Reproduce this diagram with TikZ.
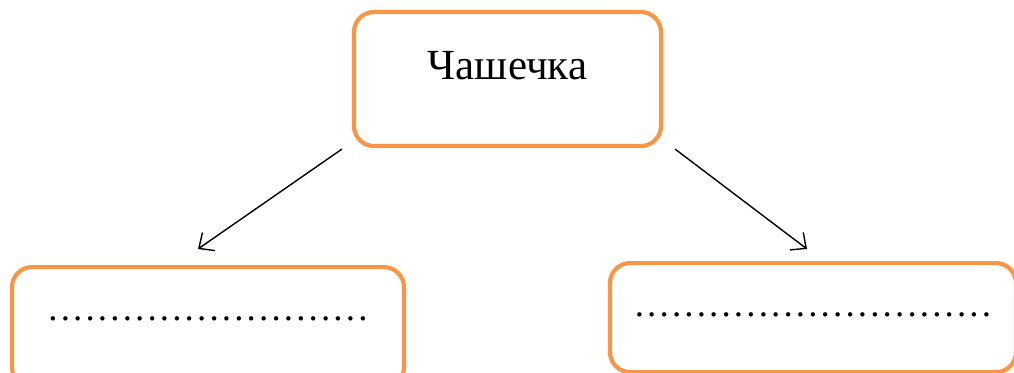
\documentclass[tikz,border=0pt]{standalone}
\usepackage{fontspec}
\setmainfont{Liberation Serif}
\newfontfamily\dotfont[LetterSpace=8.5]{Liberation Serif}
\usepackage{tikz}
\usetikzlibrary{arrows.meta}
\definecolor{boxorange}{RGB}{247, 150, 70}
\tikzset{>={Straight Barb[length=12pt,width=22pt]}}
\tikzset{
    rbox/.style={draw=boxorange, line width=4.2pt, rounded corners=20pt, inner sep=0pt}, % box
    dots/.style={font=\dotfont\fontsize{37}{44}\selectfont}, % dotted blank line
    arr/.style={->, line width=1.4pt} % arrow
}
\begin{document}
\begin{tikzpicture}[x=1pt, y=-1pt]
	\useasboundingbox (0,0) rectangle (1014,372);
				\node[rbox, minimum width=307pt, text height=67pt, text depth=67pt,
					font=\fontsize{43}{50}\selectfont] (chash) at (507.5,79) {Чашечка};
				\node[rbox, dots, minimum width=392pt, text height=53pt, text depth=67pt,
					anchor=north] (left) at (208,265)
					{..........................};
				\node[rbox, dots, minimum width=406pt, text height=53pt, text depth=56pt,
					anchor=north] (right) at (813,261)
					{.............................};

				\draw[arr] ([xshift=-10pt,yshift=-1pt]chash.south west) -- ([xshift=-10pt,yshift=16pt]left.north);
				\draw[arr] ([xshift=12pt,yshift=-1pt]chash.south east) -- ([xshift=-6pt,yshift=12pt]right.north);
			\end{tikzpicture}
\end{document}
